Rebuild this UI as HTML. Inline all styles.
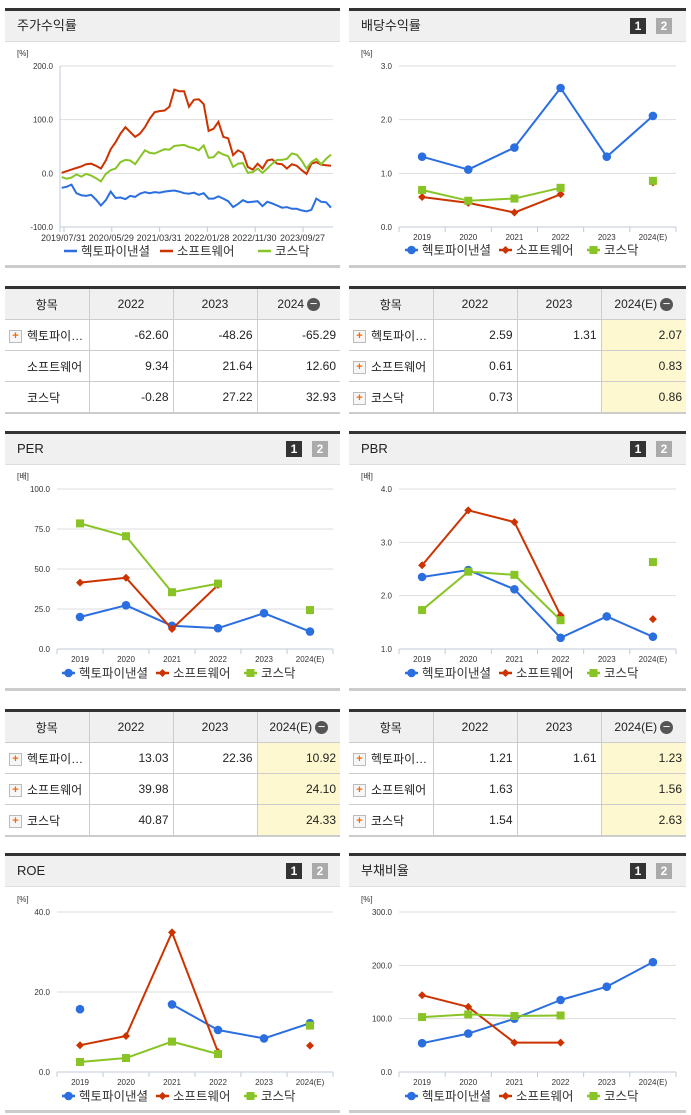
<!DOCTYPE html>
<html><head><meta charset="utf-8">
<style>
body{margin:0;width:691px;height:1115px;background:#fff;position:relative;overflow:hidden;font-family:"Liberation Sans","Noto Sans CJK KR",sans-serif;}
.panel{position:absolute;border-top:3px solid #333;border-bottom:3px solid #ccc;box-sizing:border-box;height:260px;}
.hdr{height:30px;background:#f0f0f0;border-bottom:1px solid #ddd;font-size:13px;line-height:30px;padding-left:12px;color:#222;position:relative;}
.btn{position:absolute;top:7px;width:16px;height:16px;font-size:12px;font-weight:bold;color:#fff;text-align:center;line-height:16px;}
table{position:absolute;border-collapse:collapse;border-top:3px solid #333;border-bottom:2px solid #ccc;font-size:12px;color:#222;table-layout:fixed;}
td,th{border:1px solid #ccc;height:30px;padding:0 4px;}
th{background:#f0f0f0;font-weight:normal;}
tr td:first-child,tr th:first-child{border-left:none;}
tr td:last-child,tr th:last-child{border-right:none;}
td.n{text-align:right;}
td.h{background:#fdf8d0;}
.plus{display:inline-block;width:11px;height:11px;border:1px solid #bbb;background:#f6f6f6;color:#f60;font-size:11px;line-height:10px;text-align:center;font-weight:bold;margin-right:5px;vertical-align:middle;}
.minus{display:inline-block;width:13px;height:13px;border-radius:50%;background:#555;color:#fff;line-height:12px;font-size:13px;text-align:center;vertical-align:middle;margin-left:3px;}
#svg{position:absolute;left:0;top:0;}
</style></head><body>
<div class="panel" style="left:5px;top:8px;width:335px"><div class="hdr">주가수익률</div></div>
<div class="panel" style="left:349px;top:8px;width:337px"><div class="hdr">배당수익률<div class="btn" style="left:281px;background:#333">1</div><div class="btn" style="left:307px;background:#aaa">2</div></div></div>
<div class="panel" style="left:5px;top:431px;width:335px"><div class="hdr">PER<div class="btn" style="left:281px;background:#333">1</div><div class="btn" style="left:307px;background:#aaa">2</div></div></div>
<div class="panel" style="left:349px;top:431px;width:337px"><div class="hdr">PBR<div class="btn" style="left:281px;background:#333">1</div><div class="btn" style="left:307px;background:#aaa">2</div></div></div>
<div class="panel" style="left:5px;top:853px;width:335px"><div class="hdr">ROE<div class="btn" style="left:281px;background:#333">1</div><div class="btn" style="left:307px;background:#aaa">2</div></div></div>
<div class="panel" style="left:349px;top:853px;width:337px"><div class="hdr">부채비율<div class="btn" style="left:281px;background:#333">1</div><div class="btn" style="left:307px;background:#aaa">2</div></div></div>

<table style="left:5px;top:286px;width:335px">
<colgroup><col style="width:84px"><col style="width:84px"><col style="width:84px"><col style="width:83px"></colgroup>
<tr><th>항목</th><th>2022</th><th>2023</th><th>2024<span class="minus">−</span></th></tr>
<tr><td><span class="plus">+</span>헥토파이…</td><td class="n">-62.60</td><td class="n">-48.26</td><td class="n">-65.29</td></tr>
<tr><td style="padding-left:22px">소프트웨어</td><td class="n">9.34</td><td class="n">21.64</td><td class="n">12.60</td></tr>
<tr><td style="padding-left:22px">코스닥</td><td class="n">-0.28</td><td class="n">27.22</td><td class="n">32.93</td></tr>
</table>
<table style="left:349px;top:286px;width:337px">
<colgroup><col style="width:84px"><col style="width:84px"><col style="width:84px"><col style="width:85px"></colgroup>
<tr><th>항목</th><th>2022</th><th>2023</th><th>2024(E)<span class="minus">−</span></th></tr>
<tr><td><span class="plus">+</span>헥토파이…</td><td class="n">2.59</td><td class="n">1.31</td><td class="n h">2.07</td></tr>
<tr><td><span class="plus">+</span>소프트웨어</td><td class="n">0.61</td><td class="n"></td><td class="n h">0.83</td></tr>
<tr><td><span class="plus">+</span>코스닥</td><td class="n">0.73</td><td class="n"></td><td class="n h">0.86</td></tr>
</table>
<table style="left:5px;top:709px;width:335px">
<colgroup><col style="width:84px"><col style="width:84px"><col style="width:84px"><col style="width:83px"></colgroup>
<tr><th>항목</th><th>2022</th><th>2023</th><th>2024(E)<span class="minus">−</span></th></tr>
<tr><td><span class="plus">+</span>헥토파이…</td><td class="n">13.03</td><td class="n">22.36</td><td class="n h">10.92</td></tr>
<tr><td><span class="plus">+</span>소프트웨어</td><td class="n">39.98</td><td class="n"></td><td class="n h">24.10</td></tr>
<tr><td><span class="plus">+</span>코스닥</td><td class="n">40.87</td><td class="n"></td><td class="n h">24.33</td></tr>
</table>
<table style="left:349px;top:709px;width:337px">
<colgroup><col style="width:84px"><col style="width:84px"><col style="width:84px"><col style="width:85px"></colgroup>
<tr><th>항목</th><th>2022</th><th>2023</th><th>2024(E)<span class="minus">−</span></th></tr>
<tr><td><span class="plus">+</span>헥토파이…</td><td class="n">1.21</td><td class="n">1.61</td><td class="n h">1.23</td></tr>
<tr><td><span class="plus">+</span>소프트웨어</td><td class="n">1.63</td><td class="n"></td><td class="n h">1.56</td></tr>
<tr><td><span class="plus">+</span>코스닥</td><td class="n">1.54</td><td class="n"></td><td class="n h">2.63</td></tr>
</table>

<svg id="svg" width="691" height="1115"></svg>
<script>
const BLUE='#2a6ee0',RED='#cc3300',GREEN='#88c425';
const priceDates=['2019/07/31','2020/05/29','2021/03/31','2022/01/28','2022/11/30','2023/09/27'];
const priceCompany=[-27,-25,-21,-37,-41,-42,-40,-49,-60,-50,-34,-46,-45,-48,-42,-44,-38,-35,-37,-35,-36,-34,-33,-32,-34,-37,-38,-36,-40,-37,-47,-47,-43,-47,-52,-63,-57,-50,-54,-53,-52,-61,-53,-56,-60,-64,-63,-66,-66,-69,-71,-68,-47,-53,-54,-64];
const priceSoftware=[1,4,7,10,13,17,18,14,9,24,45,58,74,86,77,68,74,86,102,114,116,117,124,156,153,153,124,137,138,129,79,83,96,68,65,34,43,38,12,7,18,9,24,26,18,17,9,17,14,6,-1,18,21,16,15,14];
const priceKosdaq=[-7,-10,-8,-2,-6,-1,-4,-9,-15,-1,6,9,21,25,24,17,30,43,38,37,41,45,44,51,52,53,49,47,43,52,29,30,40,35,32,12,18,19,1,2,9,1,9,18,25,25,27,37,35,24,9,21,27,17,27,35];
const years=['2019','2020','2021','2022','2023','2024(E)'];
const divCompany=[1.31,1.07,1.48,2.59,1.31,2.07];
const divSoftware=[0.56,0.45,0.27,0.61,null,0.83];
const divKosdaq=[0.69,0.49,0.53,0.73,null,0.86];
const perCompany=[20,27.3,14.5,13.03,22.36,10.92];
const perSoftware=[41.5,44.5,12.5,39.98,null,24.10];
const perKosdaq=[78.5,70.5,35.5,40.87,null,24.33];
const pbrCompany=[2.35,2.48,2.12,1.21,1.61,1.23];
const pbrSoftware=[2.57,3.60,3.38,1.63,null,1.56];
const pbrKosdaq=[1.73,2.45,2.39,1.54,null,2.63];
const roeCompany=[15.7,null,16.9,10.5,8.4,12.2];
const roeSoftware=[6.7,9.0,34.9,5.0,null,6.6];
const roeKosdaq=[2.5,3.5,7.6,4.5,null,11.6];
const debtCompany=[54,72,100,135,160,206];
const debtSoftware=[144,122,55,55,null,null];
const debtKosdaq=[103,108,105,106,null,null];
const names=['헥토파이낸셜','소프트웨어','코스닥'];

const svg=document.getElementById('svg');
const NS='http://www.w3.org/2000/svg';
function mk(tag,attrs,parent){const e=document.createElementNS(NS,tag);for(const k in attrs)e.setAttribute(k,attrs[k]);(parent||svg).appendChild(e);return e;}
function txt(x,y,s,size,anchor,parent){const t=mk('text',{x:x,y:y,'font-size':size,'text-anchor':anchor||'start',fill:'#333','font-family':'"Liberation Sans","Noto Sans CJK KR",sans-serif'},parent);t.textContent=s;return t;}
function marker(g,type,x,y,c){
  if(type==='c') return mk('circle',{cx:x,cy:y,r:4.3,fill:c},g);
  if(type==='d') return mk('path',{d:`M${x} ${y-4}L${x+4} ${y}L${x} ${y+4}L${x-4} ${y}Z`,fill:c},g);
  return mk('rect',{x:x-4,y:y-4,width:8,height:8,fill:c},g);
}
function axes(o){
  const g=mk('g',{});
  
  
  const ys=v=>o.bottom-(v-o.min)/(o.max-o.min)*(o.bottom-o.top);
  txt(o.unitX,o.top-10,o.unit,8,'start',g);
  o.ticks.forEach(t=>{
    const y=ys(t);
    if(t!==o.min) mk('line',{x1:o.left,x2:o.right,y1:y,y2:y,stroke:'#ddd'},g);
    const l=txt(o.left-7,y+3,t.toFixed(1),8,'end',g);
    
    
  });
  mk('line',{x1:o.left,x2:o.right,y1:o.bottom,y2:o.bottom,stroke:'#c0cbd8'},g);
  return {g,ys};
}
function legend(x0,y,types,lineOnly,adv){
  const g=mk('g',{});
  
  
  const cols=[BLUE,RED,GREEN];
  let x=x0;
  names.forEach((n,i)=>{
    mk('line',{x1:x,x2:x+13,y1:y,y2:y,stroke:cols[i],'stroke-width':2.5},g);
    if(!lineOnly) marker(g,types[i],x+6.5,y,cols[i]);
    const t=txt(x+17,y+4.5,n,12.5,'start',g);
    
    
    x+=adv[i]||0;
  });
}
// price chart
(function(){
  const o={name:'price',left:60,right:333,top:66,bottom:227,min:-100,max:200,ticks:[200,100,0,-100],unit:'[%]',unitX:17};
  const {g,ys}=axes(o);
  mk('line',{x1:o.left,x2:o.left,y1:o.top,y2:o.bottom+5,stroke:'#c0cbd8'},g);
  const n=priceCompany.length;
  const xs=i=>61.7+i*(331-61.7)/(n-1);
  priceDates.forEach((d,i)=>{
    const x=64+i*47.8;
    mk('line',{x1:x,x2:x,y1:o.bottom,y2:o.bottom+5,stroke:'#c0cbd8'},g);
    const t=txt(x-23,o.bottom+14,d,9,'start',g);
    
    
  });
  [[priceCompany,BLUE,'company'],[priceSoftware,RED,'software'],[priceKosdaq,GREEN,'kosdaq']].forEach(([arr,c,nm])=>{
    const p=mk('polyline',{points:arr.map((v,i)=>xs(i).toFixed(1)+','+ys(v).toFixed(1)).join(' '),fill:'none',stroke:c,'stroke-width':2});
    
    
  });
  legend(64,251,null,true,[96,98]);
})();
function yearChart(o,series){
  const {g,ys}=axes(o);
  const bw=(o.right-o.left)/years.length;
  const xs=i=>o.left+bw*(i+0.5);
  for(let i=0;i<=years.length;i++){const x=o.left+bw*i;mk('line',{x1:x,x2:x,y1:o.bottom,y2:o.bottom+5,stroke:'#c0cbd8'},g);}
  years.forEach((y,i)=>{const t=txt(xs(i),o.bottom+13,y,8,'middle',g);});
  const types=['c','d','s'],cols=[BLUE,RED,GREEN],nm=['company','software','kosdaq'];
  series.forEach((arr,s)=>{
    const sg=mk('g',{});
    
    
    for(let i=0;i<arr.length-1;i++){
      if(arr[i]!=null&&arr[i+1]!=null) mk('line',{x1:xs(i),y1:ys(arr[i]),x2:xs(i+1),y2:ys(arr[i+1]),stroke:cols[s],'stroke-width':2},sg);
    }
    arr.forEach((v,i)=>{if(v!=null){const m=marker(sg,types[s],xs(i),ys(v),cols[s]);}});
  });
  legend(o.legendX,o.legendY,types,false,[94,88]);
}
yearChart({name:'dividend',left:399,right:676,top:66,bottom:227,min:0,max:3,ticks:[3,2,1,0],unit:'[%]',unitX:361,legendY:250,legendX:405},[divCompany,divSoftware,divKosdaq]);
yearChart({name:'per',left:57,right:333,top:489,bottom:649,min:0,max:100,ticks:[100,75,50,25,0],unit:'[배]',unitX:17,legendY:673,legendX:62},[perCompany,perSoftware,perKosdaq]);
yearChart({name:'pbr',left:399,right:676,top:489,bottom:649,min:1,max:4,ticks:[4,3,2,1],unit:'[배]',unitX:361,legendY:673,legendX:405},[pbrCompany,pbrSoftware,pbrKosdaq]);
yearChart({name:'roe',left:57,right:333,top:912,bottom:1072,min:0,max:40,ticks:[40,20,0],unit:'[%]',unitX:17,legendY:1096,legendX:62},[roeCompany,roeSoftware,roeKosdaq]);
yearChart({name:'debt',left:399,right:676,top:912,bottom:1072,min:0,max:300,ticks:[300,200,100,0],unit:'[%]',unitX:361,legendY:1096,legendX:405},[debtCompany,debtSoftware,debtKosdaq]);
</script>
</body></html>
